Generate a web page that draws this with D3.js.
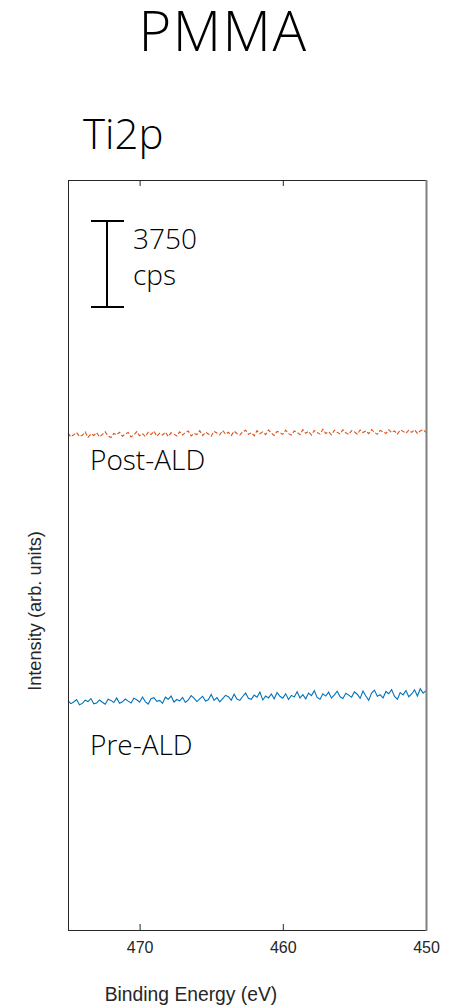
<!DOCTYPE html>
<html>
<head>
<meta charset="utf-8">
<script src="https://cdn.jsdelivr.net/npm/d3@7"></script>
<style>
  html, body { margin: 0; padding: 0; background: #fff; }
  svg { display: block; }
</style>
</head>
<body>
<svg id="chart" width="454" height="1007"></svg>
<script>
// Ti2p region, binding energy grid (eV), 0.2 eV step from 475 down to 450
const energyStart = 475;
const energyEnd = 450;
const energyStep = 0.2;
const energies = d3.range(0, 126).map(i => +(energyStart - i * energyStep).toFixed(1));

// Pre-ALD counts (cps)
const preALD = [
  9990, 9870, 9940, 10050, 9820, 9880, 10020, 9960, 10090, 9860, 9900, 10030, 9930, 9840, 10060, 10010, 9920, 10120, 9890, 9950,
  10070, 9980, 9900, 10110, 10040, 9930, 10160, 9960, 9850, 10080, 10130, 9970, 10010, 9880, 10150, 10060, 10200, 9940, 10050, 9990,
  10140, 9920, 10030, 10220, 10110, 9960, 10080, 10190, 9980, 10040, 10270, 10010, 10130, 9950, 10090, 10230, 10170, 10020, 10280, 10070,
  10010, 10180, 10330, 10100, 10060, 10240, 10150, 10370, 10030, 10200, 10120, 10290, 10080, 10350, 10190, 10110, 10300, 10050, 10230, 10160,
  10390, 10120, 10260, 10080, 10330, 10220, 10430, 10140, 10060, 10300, 10200, 10370, 10110, 10250, 10410, 10170, 10090, 10320, 10240, 10150,
  10380, 10280, 10100, 10420, 10200, 10010, 10330, 10460, 10190, 10260, 10120, 10400, 10300, 10480, 10180, 10060, 10350, 10250, 10440, 10170,
  10290, 10470, 10200, 10520, 10330, 10440
];

// Post-ALD counts (cps), offset upward for display
const postALD = [
  21660, 21500, 21600, 21690, 21520, 21570, 21710, 21480, 21630, 21560, 21680, 21500, 21610, 21720, 21540, 21470, 21650, 21590, 21700, 21530,
  21620, 21690, 21500, 21580, 21730, 21550, 21640, 21510, 21700, 21600, 21750, 21530, 21660, 21580, 21710, 21520, 21680, 21620, 21540, 21720,
  21580, 21690, 21760, 21540, 21650, 21600, 21770, 21560, 21700, 21630, 21530, 21740, 21670, 21590, 21780, 21620, 21700, 21560, 21750, 21640,
  21580, 21720, 21790, 21610, 21680, 21550, 21770, 21640, 21720, 21600, 21800, 21660, 21560, 21740, 21690, 21610, 21790, 21640, 21580, 21760,
  21700, 21600, 21810, 21660, 21740, 21580, 21780, 21690, 21620, 21830, 21650, 21720, 21590, 21790, 21700, 21630, 21810, 21680, 21600, 21770,
  21720, 21620, 21800, 21690, 21760, 21640, 21820, 21700, 21610, 21780, 21730, 21650, 21810, 21690, 21760, 21620, 21800, 21740, 21660, 21790,
  21700, 21810, 21650, 21760, 21820, 21700
];

const xTicks = [470, 460, 450];
const yDomain = [0, 32700];
const scaleBarCps = 3750;
const scaleBarBase = 27160;

const svg = d3.select("#chart");
const margin = { left: 68, right: 427, top: 180, bottom: 930 };

const x = d3.scaleLinear().domain([energyStart, energyEnd]).range([margin.left, margin.right - 1]);
const y = d3.scaleLinear().domain(yDomain).range([margin.bottom, margin.top]);

const sans = "'Open Sans', 'Noto Sans', sans-serif";
const axisFont = "'Liberation Sans', Arial, sans-serif";

// Titles
svg.append("text").attr("x", 223).attr("y", 51).attr("text-anchor", "middle")
  .attr("font-family", sans).attr("font-weight", 300).attr("font-size", 56)
  .attr("letter-spacing", 1.5).attr("fill", "#000").text("PMMA");
svg.append("text").attr("x", 83).attr("y", 149)
  .attr("font-family", sans).attr("font-weight", 300).attr("font-size", 42).attr("fill", "#000").text("Ti2p");

// Data lines
const line = d3.line().x((d, i) => x(energies[i])).y(d => y(d));

svg.append("path").datum(postALD).attr("d", line)
  .attr("fill", "none").attr("stroke", "#D95319").attr("stroke-width", 1.1)
  .attr("stroke-dasharray", "4,2");

svg.append("path").datum(preALD).attr("d", line)
  .attr("fill", "none").attr("stroke", "#0072BD").attr("stroke-width", 1.1);

// Axes: bottom with labels, top with ticks only
const bottomAxis = d3.axisBottom(x).tickValues(xTicks).tickSize(-6).tickPadding(12).tickFormat(d3.format("d"));
const gB = svg.append("g").attr("transform", `translate(0,${margin.bottom})`).call(bottomAxis);
gB.select(".domain").remove();
gB.selectAll("line").attr("stroke", "#262626");
gB.selectAll("text").attr("font-family", axisFont).attr("font-size", 16).attr("fill", "#262626");

const topAxis = d3.axisTop(x).tickValues(xTicks).tickSize(-6).tickFormat("");
const gT = svg.append("g").attr("transform", `translate(0,${margin.top})`).call(topAxis);
gT.select(".domain").remove();
gT.selectAll("line").attr("stroke", "#262626");

// Frame
svg.append("line").attr("x1", margin.left).attr("x2", margin.right).attr("y1", margin.top + 0.5).attr("y2", margin.top + 0.5).attr("stroke", "#262626");
svg.append("line").attr("x1", margin.left).attr("x2", margin.right).attr("y1", margin.bottom + 0.5).attr("y2", margin.bottom + 0.5).attr("stroke", "#262626");
svg.append("line").attr("x1", margin.left + 0.5).attr("x2", margin.left + 0.5).attr("y1", margin.top).attr("y2", margin.bottom + 1).attr("stroke", "#262626");
svg.append("line").attr("x1", margin.right - 0.5).attr("x2", margin.right - 0.5).attr("y1", margin.top).attr("y2", margin.bottom + 1).attr("stroke", "#808080").attr("stroke-width", 2);

// Axis titles
svg.append("text").attr("x", 191).attr("y", 1001).attr("text-anchor", "middle")
  .attr("font-family", axisFont).attr("font-size", 19.3).attr("fill", "#262626").text("Binding Energy (eV)");
svg.append("text").attr("transform", "translate(41,611) rotate(-90)").attr("text-anchor", "middle")
  .attr("font-family", axisFont).attr("font-size", 18.2).attr("fill", "#262626").text("Intensity (arb. units)");

// Scale bar
const sbTop = y(scaleBarBase + scaleBarCps), sbBot = y(scaleBarBase);
const sb = svg.append("g").attr("stroke", "#000").attr("stroke-width", 2);
sb.append("line").attr("x1", 107).attr("x2", 107).attr("y1", sbTop).attr("y2", sbBot);
sb.append("line").attr("x1", 91).attr("x2", 124).attr("y1", sbTop).attr("y2", sbTop);
sb.append("line").attr("x1", 91).attr("x2", 124).attr("y1", sbBot).attr("y2", sbBot);
svg.append("text").attr("x", 133).attr("y", 249)
  .attr("font-family", sans).attr("font-weight", 300).attr("font-size", 28).attr("fill", "#000").text(String(scaleBarCps));
svg.append("text").attr("x", 133).attr("y", 285)
  .attr("font-family", sans).attr("font-weight", 300).attr("font-size", 28).attr("fill", "#000").text("cps");

// Series labels
svg.append("text").attr("x", 90).attr("y", 470)
  .attr("font-family", sans).attr("font-weight", 300).attr("font-size", 28).attr("fill", "#000").text("Post-ALD");
svg.append("text").attr("x", 90).attr("y", 755)
  .attr("font-family", sans).attr("font-weight", 300).attr("font-size", 28).attr("fill", "#000").text("Pre-ALD");
</script>
</body>
</html>
